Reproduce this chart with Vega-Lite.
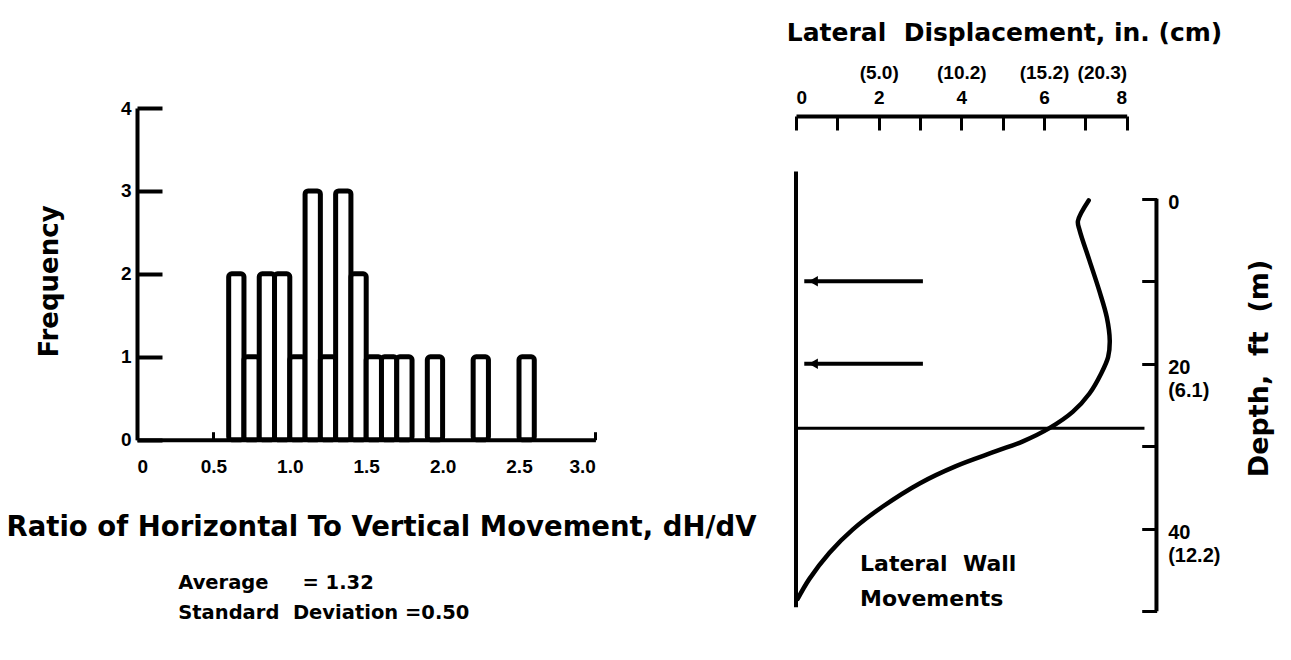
{
  "$schema": "https://vega.github.io/schema/vega-lite/v6.json",
  "background": "white",
  "padding": {"left": 6, "top": 20, "right": 5, "bottom": 5},
  "bounds": "flush",
  "spacing": 200,
  "datasets": {
    "hist": [
      {"lo": 0.6, "hi": 0.7, "count": 2},
      {"lo": 0.7, "hi": 0.8, "count": 1},
      {"lo": 0.8, "hi": 0.9, "count": 2},
      {"lo": 0.9, "hi": 1.0, "count": 2},
      {"lo": 1.0, "hi": 1.1, "count": 1},
      {"lo": 1.1, "hi": 1.2, "count": 3},
      {"lo": 1.2, "hi": 1.3, "count": 1},
      {"lo": 1.3, "hi": 1.4, "count": 3},
      {"lo": 1.4, "hi": 1.5, "count": 2},
      {"lo": 1.5, "hi": 1.6, "count": 1},
      {"lo": 1.6, "hi": 1.7, "count": 1},
      {"lo": 1.7, "hi": 1.8, "count": 1},
      {"lo": 1.9, "hi": 2.0, "count": 1},
      {"lo": 2.2, "hi": 2.3, "count": 1},
      {"lo": 2.5, "hi": 2.6, "count": 1}
    ],
    "stats": [
      {"lo": 0.27, "count": -1.73, "label": "Average\u00a0\u00a0\u00a0\u00a0 = 1.32"},
      {"lo": 0.27, "count": -2.09, "label": "Standard\u00a0 Deviation =0.50"}
    ],
    "curve": [
      {"order": 1, "in": 7.08, "ft": 0.2},
      {"order": 2, "in": 6.82, "ft": 2.7},
      {"order": 3, "in": 6.86, "ft": 3.8},
      {"order": 4, "in": 7.10, "ft": 7.5},
      {"order": 5, "in": 7.34, "ft": 11.2},
      {"order": 6, "in": 7.52, "ft": 14.4},
      {"order": 7, "in": 7.59, "ft": 17.2},
      {"order": 8, "in": 7.55, "ft": 19.2},
      {"order": 9, "in": 7.38, "ft": 21.2},
      {"order": 10, "in": 7.10, "ft": 23.6},
      {"order": 11, "in": 6.70, "ft": 25.8},
      {"order": 12, "in": 6.13, "ft": 27.8},
      {"order": 13, "in": 5.49, "ft": 29.4},
      {"order": 14, "in": 4.84, "ft": 30.6},
      {"order": 15, "in": 3.87, "ft": 32.4},
      {"order": 16, "in": 2.99, "ft": 34.5},
      {"order": 17, "in": 2.10, "ft": 37.3},
      {"order": 18, "in": 1.37, "ft": 40.1},
      {"order": 19, "in": 0.81, "ft": 42.9},
      {"order": 20, "in": 0.32, "ft": 46.1},
      {"order": 21, "in": 0.04, "ft": 48.5}
    ],
    "vlines": [
      {"in": 0, "ft": -3.3, "ft2": 49.5},
      {"in": 8.72, "ft": 0, "ft2": 50}
    ],
    "hlines": [
      {"in": 0, "in2": 8.43, "ft": 27.8}
    ],
    "struts": [
      {"in": 0.2, "in2": 3.07, "ft": 10},
      {"in": 0.2, "in2": 3.07, "ft": 20}
    ],
    "heads": [
      {"in": 0.42, "ft": 10},
      {"in": 0.42, "ft": 20}
    ],
    "notes": [
      {"in": 1.55, "ft": 44.3, "label": "Lateral\u00a0 Wall"},
      {"in": 1.55, "ft": 48.5, "label": "Movements"}
    ]
  },
  "hconcat": [
    {
      "width": 458.4,
      "height": 331.7,
      "layer": [
        {
          "data": {"name": "hist"},
          "mark": {"type": "bar", "fill": "white", "stroke": "black", "strokeWidth": 5, "strokeJoin": "round", "cornerRadius": 3},
          "encoding": {
            "x": {
              "field": "lo", "type": "quantitative",
              "scale": {"domain": [0, 3], "nice": false, "zero": false},
              "axis": {
                "values": [0, 0.5, 1, 1.5, 2, 2.5, 3],
                "labelExpr": "datum.value == 0 ? '0' : format(datum.value, '.1f')",
                "domainWidth": 4, "tickWidth": 3, "tickSize": -8, "labelPadding": 26,
                "title": "Ratio of Horizontal To Vertical Movement, dH/dV",
                "titleFontSize": 27.5, "titleX": 244, "titleY": 88,
                "titleAlign": "center", "titleBaseline": "middle", "titleAngle": 0
              }
            },
            "x2": {"field": "hi"},
            "y": {
              "field": "count", "type": "quantitative",
              "scale": {"domain": [0, 4], "nice": false},
              "axis": {
                "values": [0, 1, 2, 3, 4], "format": "d",
                "domainWidth": 4, "tickWidth": 4, "tickSize": -25, "labelPadding": 31,
                "title": "Frequency",
                "titleFontSize": 26, "titleX": -88, "titleY": 173,
                "titleAlign": "center", "titleBaseline": "middle", "titleAngle": 270
              }
            },
            "y2": {"datum": 0}
          }
        },
        {
          "data": {"name": "stats"},
          "mark": {"type": "text", "align": "left", "baseline": "middle", "font": "DejaVu Sans", "fontWeight": "bold", "fontSize": 19.5, "color": "black"},
          "encoding": {
            "x": {"field": "lo", "type": "quantitative"},
            "y": {"field": "count", "type": "quantitative"},
            "text": {"field": "label"}
          }
        }
      ]
    },
    {
      "width": 330.7,
      "height": 503.3,
      "layer": [
        {
          "data": {"name": "curve"},
          "mark": {"type": "line", "color": "black", "strokeWidth": 4.5, "interpolate": "catmull-rom", "strokeCap": "round"},
          "encoding": {
            "x": {
              "field": "in", "type": "quantitative",
              "scale": {"domain": [0, 8], "nice": false},
              "axis": {
                "orient": "top", "offset": -8,
                "values": [0, 1, 2, 3, 4, 5, 6, 7, 8],
                "labelExpr": "datum.value == 0 ? ['', '0'] : datum.value == 2 ? ['(5.0)', '2'] : datum.value == 4 ? ['(10.2)', '4'] : datum.value == 6 ? ['(15.2)', '6'] : datum.value == 8 ? ['(20.3)', '8'] : ''",
                "labelLineHeight": 25,
                "domainWidth": 4, "tickWidth": 3, "tickSize": -14, "labelPadding": 48,
                "title": "Lateral\u00a0 Displacement, in. (cm)",
                "titleFontSize": 25, "titleX": 208, "titleY": -84,
                "titleAlign": "center", "titleBaseline": "middle", "titleAngle": 0
              }
            },
            "y": {
              "field": "ft", "type": "quantitative",
              "scale": {"domain": [-11, 50], "nice": false, "zero": false, "reverse": true},
              "axis": {
                "orient": "right", "offset": 30, "domain": false,
                "values": [0, 10, 20, 30, 40, 50],
                "labelExpr": "datum.value == 0 ? ['0', ''] : datum.value == 20 ? ['20', '(6.1)'] : datum.value == 40 ? ['40', '(12.2)'] : ''",
                "labelLineHeight": 23, "labelBaseline": "middle", "labelOffset": 4,
                "labelFontSize": 20,
                "tickWidth": 3, "tickSize": -15, "labelPadding": 26,
                "title": "Depth,\u00a0 ft\u00a0 (m)",
                "titleFontSize": 27, "titleX": 103, "titleY": 260,
                "titleAlign": "center", "titleBaseline": "middle", "titleAngle": 270
              }
            },
            "order": {"field": "order", "type": "quantitative"}
          }
        },
        {
          "data": {"name": "vlines"},
          "mark": {"type": "rule", "color": "black", "strokeWidth": 4},
          "encoding": {
            "x": {"field": "in", "type": "quantitative"},
            "y": {"field": "ft", "type": "quantitative"},
            "y2": {"field": "ft2"}
          }
        },
        {
          "data": {"name": "hlines"},
          "mark": {"type": "rule", "color": "black", "strokeWidth": 3},
          "encoding": {
            "x": {"field": "in", "type": "quantitative"},
            "x2": {"field": "in2"},
            "y": {"field": "ft", "type": "quantitative"}
          }
        },
        {
          "data": {"name": "struts"},
          "mark": {"type": "rule", "color": "black", "strokeWidth": 4},
          "encoding": {
            "x": {"field": "in", "type": "quantitative"},
            "x2": {"field": "in2"},
            "y": {"field": "ft", "type": "quantitative"}
          }
        },
        {
          "data": {"name": "heads"},
          "mark": {"type": "point", "shape": "triangle-left", "filled": true, "color": "black", "size": 110, "opacity": 1},
          "encoding": {
            "x": {"field": "in", "type": "quantitative"},
            "y": {"field": "ft", "type": "quantitative"}
          }
        },
        {
          "data": {"name": "notes"},
          "mark": {"type": "text", "align": "left", "baseline": "middle", "font": "DejaVu Sans", "fontWeight": "bold", "fontSize": 22, "color": "black"},
          "encoding": {
            "x": {"field": "in", "type": "quantitative"},
            "y": {"field": "ft", "type": "quantitative"},
            "text": {"field": "label"}
          }
        }
      ]
    }
  ],
  "config": {
    "view": {"stroke": null},
    "axis": {
      "grid": false,
      "domainColor": "black", "tickColor": "black",
      "labelColor": "black", "titleColor": "black",
      "labelFont": "Liberation Sans", "labelFontWeight": "bold", "labelFontSize": 19,
      "titleFont": "DejaVu Sans", "titleFontWeight": "bold"
    }
  }
}
